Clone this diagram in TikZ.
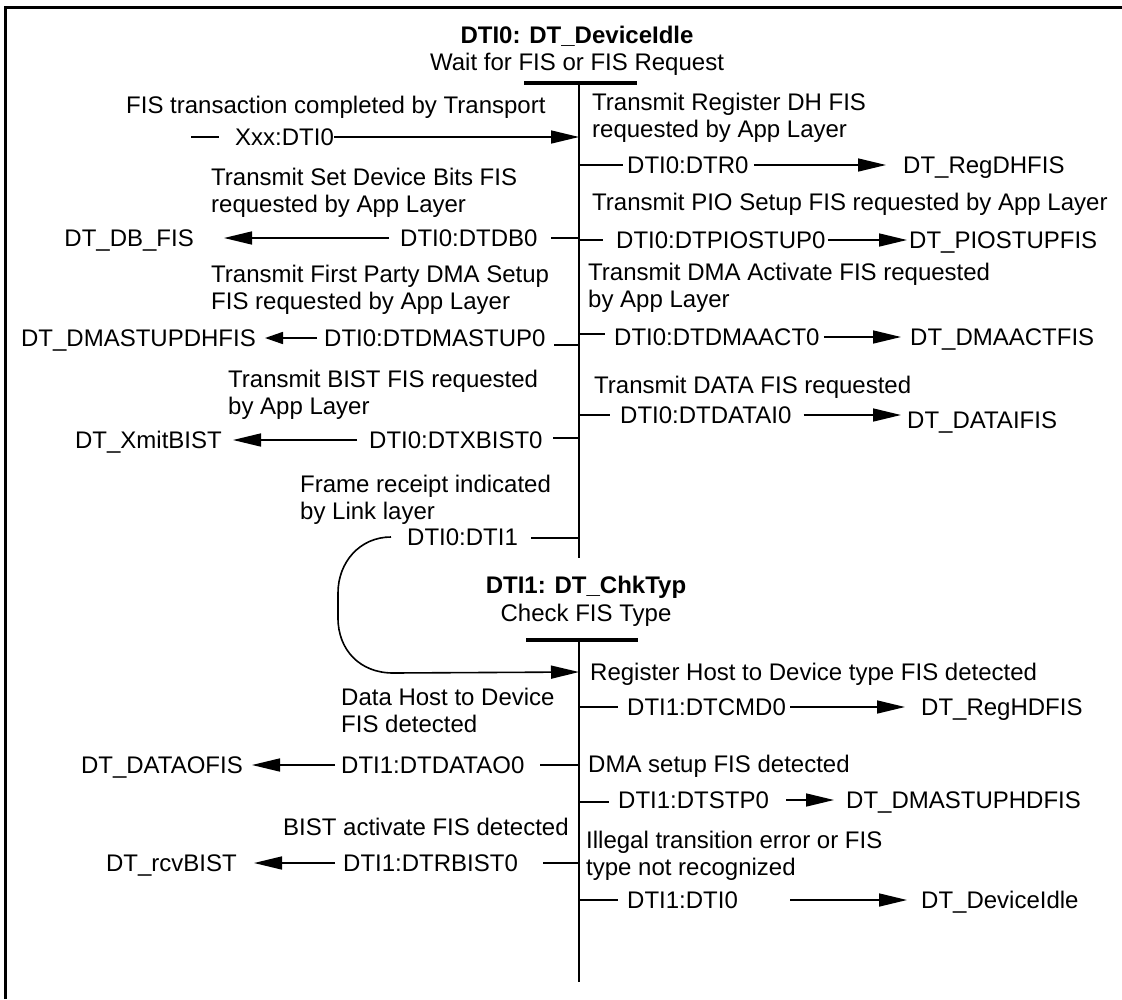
\documentclass[tikz,border=0pt]{standalone}
\usepackage{fontspec}
\setmainfont{Liberation Sans}
\usetikzlibrary{arrows.meta}
\begin{document}
\begin{tikzpicture}[x=1pt,y=-1pt,
  font=\fontsize{24pt}{27pt}\selectfont,
  lab/.style={inner sep=0pt,text height=17.2pt,text depth=0pt,anchor=west},
  labr/.style={lab,anchor=east},
  desc/.style={inner sep=0pt,anchor=north west,align=left},
  ttl/.style={inner sep=0pt,anchor=base},
  wire/.style={line width=1.6pt},
  arr/.style={wire,-{Triangle[length=28pt,width=13pt]}},
  sarr/.style={wire,-{Triangle[length=18pt,width=12pt]}},
  stem/.style={line width=2pt},
  bar/.style={line width=4.5pt},
  frame/.style={line width=3pt}]

\useasboundingbox (0,0) rectangle (1122,999);
\draw[frame] (5.5,999) -- (5.5,7) -- (1122,7);

% ---------- state DTI0 ----------
\node[ttl] (s0name) at (577,43) {\textbf{DTI0: DT\_DeviceIdle}};
\node[ttl] (s0desc) at (577,70) {Wait for FIS or FIS Request};
\coordinate (s0barL) at (524,83);
\coordinate (s0barR) at (637,83);
\draw[bar] (s0barL) -- (s0barR);
\coordinate (s0top) at (579,83);
\coordinate (s0bot) at (579,558);
\draw[stem] (s0top) -- (s0bot);

% left side, state 0
\node[desc] (d1) at (126,95.6) {FIS transaction completed by Transport};
\node[lab] (x1) at (235,137) {Xxx:DTI0};
\coordinate (x1free) at (191,137);
\coordinate (s0x1) at (579,137);
\draw[wire] (x1free) -- ([xshift=-16pt]x1.west);
\draw[arr] (x1.east) -- (s0x1);

\node[desc] (d2) at (211,167.6) {Transmit Set Device Bits FIS\\requested by App Layer};
\node[labr] (t2) at (194,238) {DT\_DB\_FIS};
\node[lab] (x2) at (400,238) {DTI0:DTDB0};
\coordinate (s0x2) at (579,238);
\draw[arr] ([xshift=-11pt]x2.west) -- ([xshift=30pt]t2.east);
\draw[wire] (s0x2) -- ([xshift=13pt]x2.east);

\node[desc] (d3) at (211,264.6) {Transmit First Party DMA Setup\\FIS requested by App Layer};
\node[labr] (t3) at (256,338) {DT\_DMASTUPDHFIS};
\node[lab] (x3) at (324,338) {DTI0:DTDMASTUP0};
\coordinate (s0x3) at (579,345);
\draw[sarr] ([xshift=-7pt]x3.west) -- ([xshift=9pt]t3.east);
\draw[wire] (s0x3) -- ([xshift=8pt,yshift=-7pt]x3.east);

\node[desc] (d4) at (228,369.6) {Transmit BIST FIS requested\\by App Layer};
\node[labr] (t4) at (222,440) {DT\_XmitBIST};
\node[lab] (x4) at (369,440) {DTI0:DTXBIST0};
\coordinate (s0x4) at (579,438);
\draw[arr] ([xshift=-12pt]x4.west) -- ([xshift=11pt]t4.east);
\draw[wire] (s0x4) -- ([xshift=10pt,yshift=2pt]x4.east);

\node[desc] (d5) at (300,474.6) {Frame receipt indicated\\by Link layer};
\node[lab] (x5) at (407,537) {DTI0:DTI1};
\coordinate (s0x5) at (579,538);
\draw[wire] (s0x5) -- ([xshift=13pt,yshift=-1pt]x5.east);

% right side, state 0
\node[desc] (r1) at (592,92.6) {Transmit Register DH FIS\\requested by App Layer};
\node[lab] (y1) at (627,165) {DTI0:DTR0};
\node[lab] (u1) at (903,165) {DT\_RegDHFIS};
\coordinate (s0y1) at (579,165);
\draw[wire] (s0y1) -- ([xshift=-4pt]y1.west);
\draw[arr] ([xshift=5pt]y1.east) -- ([xshift=-17pt]u1.west);

\node[desc] (r2) at (592,192.6) {Transmit PIO Setup FIS requested by App Layer};
\node[lab] (y2) at (616,240) {DTI0:DTPIOSTUP0};
\node[lab] (u2) at (909,240) {DT\_PIOSTUPFIS};
\coordinate (s0y2) at (579,240);
\draw[wire] (s0y2) -- ([xshift=-13pt]y2.west);
\draw[arr] ([xshift=2pt]y2.east) -- ([xshift=-2pt]u2.west);

\node[desc] (r3) at (588,262.6) {Transmit DMA Activate FIS requested\\by App Layer};
\node[lab] (y3) at (614,337) {DTI0:DTDMAACT0};
\node[lab] (u3) at (910,337) {DT\_DMAACTFIS};
\coordinate (s0y3) at (579,334);
\draw[wire] (s0y3) -- ([xshift=-9pt,yshift=3pt]y3.west);
\draw[arr] ([xshift=4pt]y3.east) -- ([xshift=-9pt]u3.west);

\node[desc] (r4) at (594,375.6) {Transmit DATA FIS requested};
\node[lab] (y4) at (620,415) {DTI0:DTDATAI0};
\node[lab] (u4) at (907,420) {DT\_DATAIFIS};
\coordinate (s0y4) at (579,415);
\draw[wire] (s0y4) -- ([xshift=-10pt]y4.west);
\draw[arr] ([xshift=12pt]y4.east) -- ([xshift=-6pt,yshift=5pt]u4.west);

% ---------- state DTI1 ----------
\node[ttl] (s1name) at (586,593) {\textbf{DTI1: DT\_ChkTyp}};
\node[ttl] (s1desc) at (586,621) {Check FIS Type};
\coordinate (s1barL) at (526,640);
\coordinate (s1barR) at (638,640);
\draw[bar] (s1barL) -- (s1barR);
\coordinate (s1top) at (579,640);
\coordinate (s1bot) at (579,982);
\draw[stem] (s1top) -- (s1bot);

% transition DTI0 -> DTI1
\coordinate (s1in) at (579,672);
\draw[arr] ([xshift=-16pt]x5.west) .. controls (360,537) and (338,562) .. (338,593)
  -- (338,618) .. controls (338,650) and (360,673) .. (393,673) -- (s1in);

% right side, state 1
\node[desc] (r5) at (590,662.6) {Register Host to Device type FIS detected};
\node[lab] (y5) at (627,707) {DTI1:DTCMD0};
\node[lab] (u5) at (921,707) {DT\_RegHDFIS};
\coordinate (s1y5) at (579,707);
\draw[wire] (s1y5) -- ([xshift=-9pt]y5.west);
\draw[arr] ([xshift=4pt]y5.east) -- ([xshift=-16pt]u5.west);

\node[desc] (r6) at (588,754.6) {DMA setup FIS detected};
\node[lab] (y6) at (618,800) {DTI1:DTSTP0};
\node[lab] (u6) at (846,800) {DT\_DMASTUPHDFIS};
\coordinate (s1y6) at (579,802);
\draw[wire] (s1y6) -- ([xshift=-9pt,yshift=-2pt]y6.west);
\draw[arr] ([xshift=17pt]y6.east) -- ([xshift=-12pt]u6.west);

\node[desc] (r7) at (586,830.6) {Illegal transition error or FIS\\type not recognized};
\node[lab] (y7) at (627,900) {DTI1:DTI0};
\node[lab] (u7) at (921,900) {DT\_DeviceIdle};
\coordinate (s1y7) at (579,900);
\draw[wire] (s1y7) -- ([xshift=-9pt]y7.west);
\draw[arr] ([xshift=52pt]y7.east) -- ([xshift=-14pt]u7.west);

% left side, state 1
\node[desc] (d6) at (341,687.6) {Data Host to Device\\FIS detected};
\node[labr] (t6) at (243,765) {DT\_DATAOFIS};
\node[lab] (x6) at (341,765) {DTI1:DTDATAO0};
\coordinate (s1x6) at (579,765);
\draw[arr] ([xshift=-6pt]x6.west) -- ([xshift=9pt]t6.east);
\draw[wire] (s1x6) -- ([xshift=15pt]x6.east);

\node[desc] (d7) at (283,817.6) {BIST activate FIS detected};
\node[labr] (t7) at (237,863) {DT\_rcvBIST};
\node[lab] (x7) at (343,863) {DTI1:DTRBIST0};
\coordinate (s1x7) at (579,863);
\draw[arr] ([xshift=-8pt]x7.west) -- ([xshift=17pt]t7.east);
\draw[wire] (s1x7) -- ([xshift=25pt]x7.east);

\end{tikzpicture}
\end{document}
